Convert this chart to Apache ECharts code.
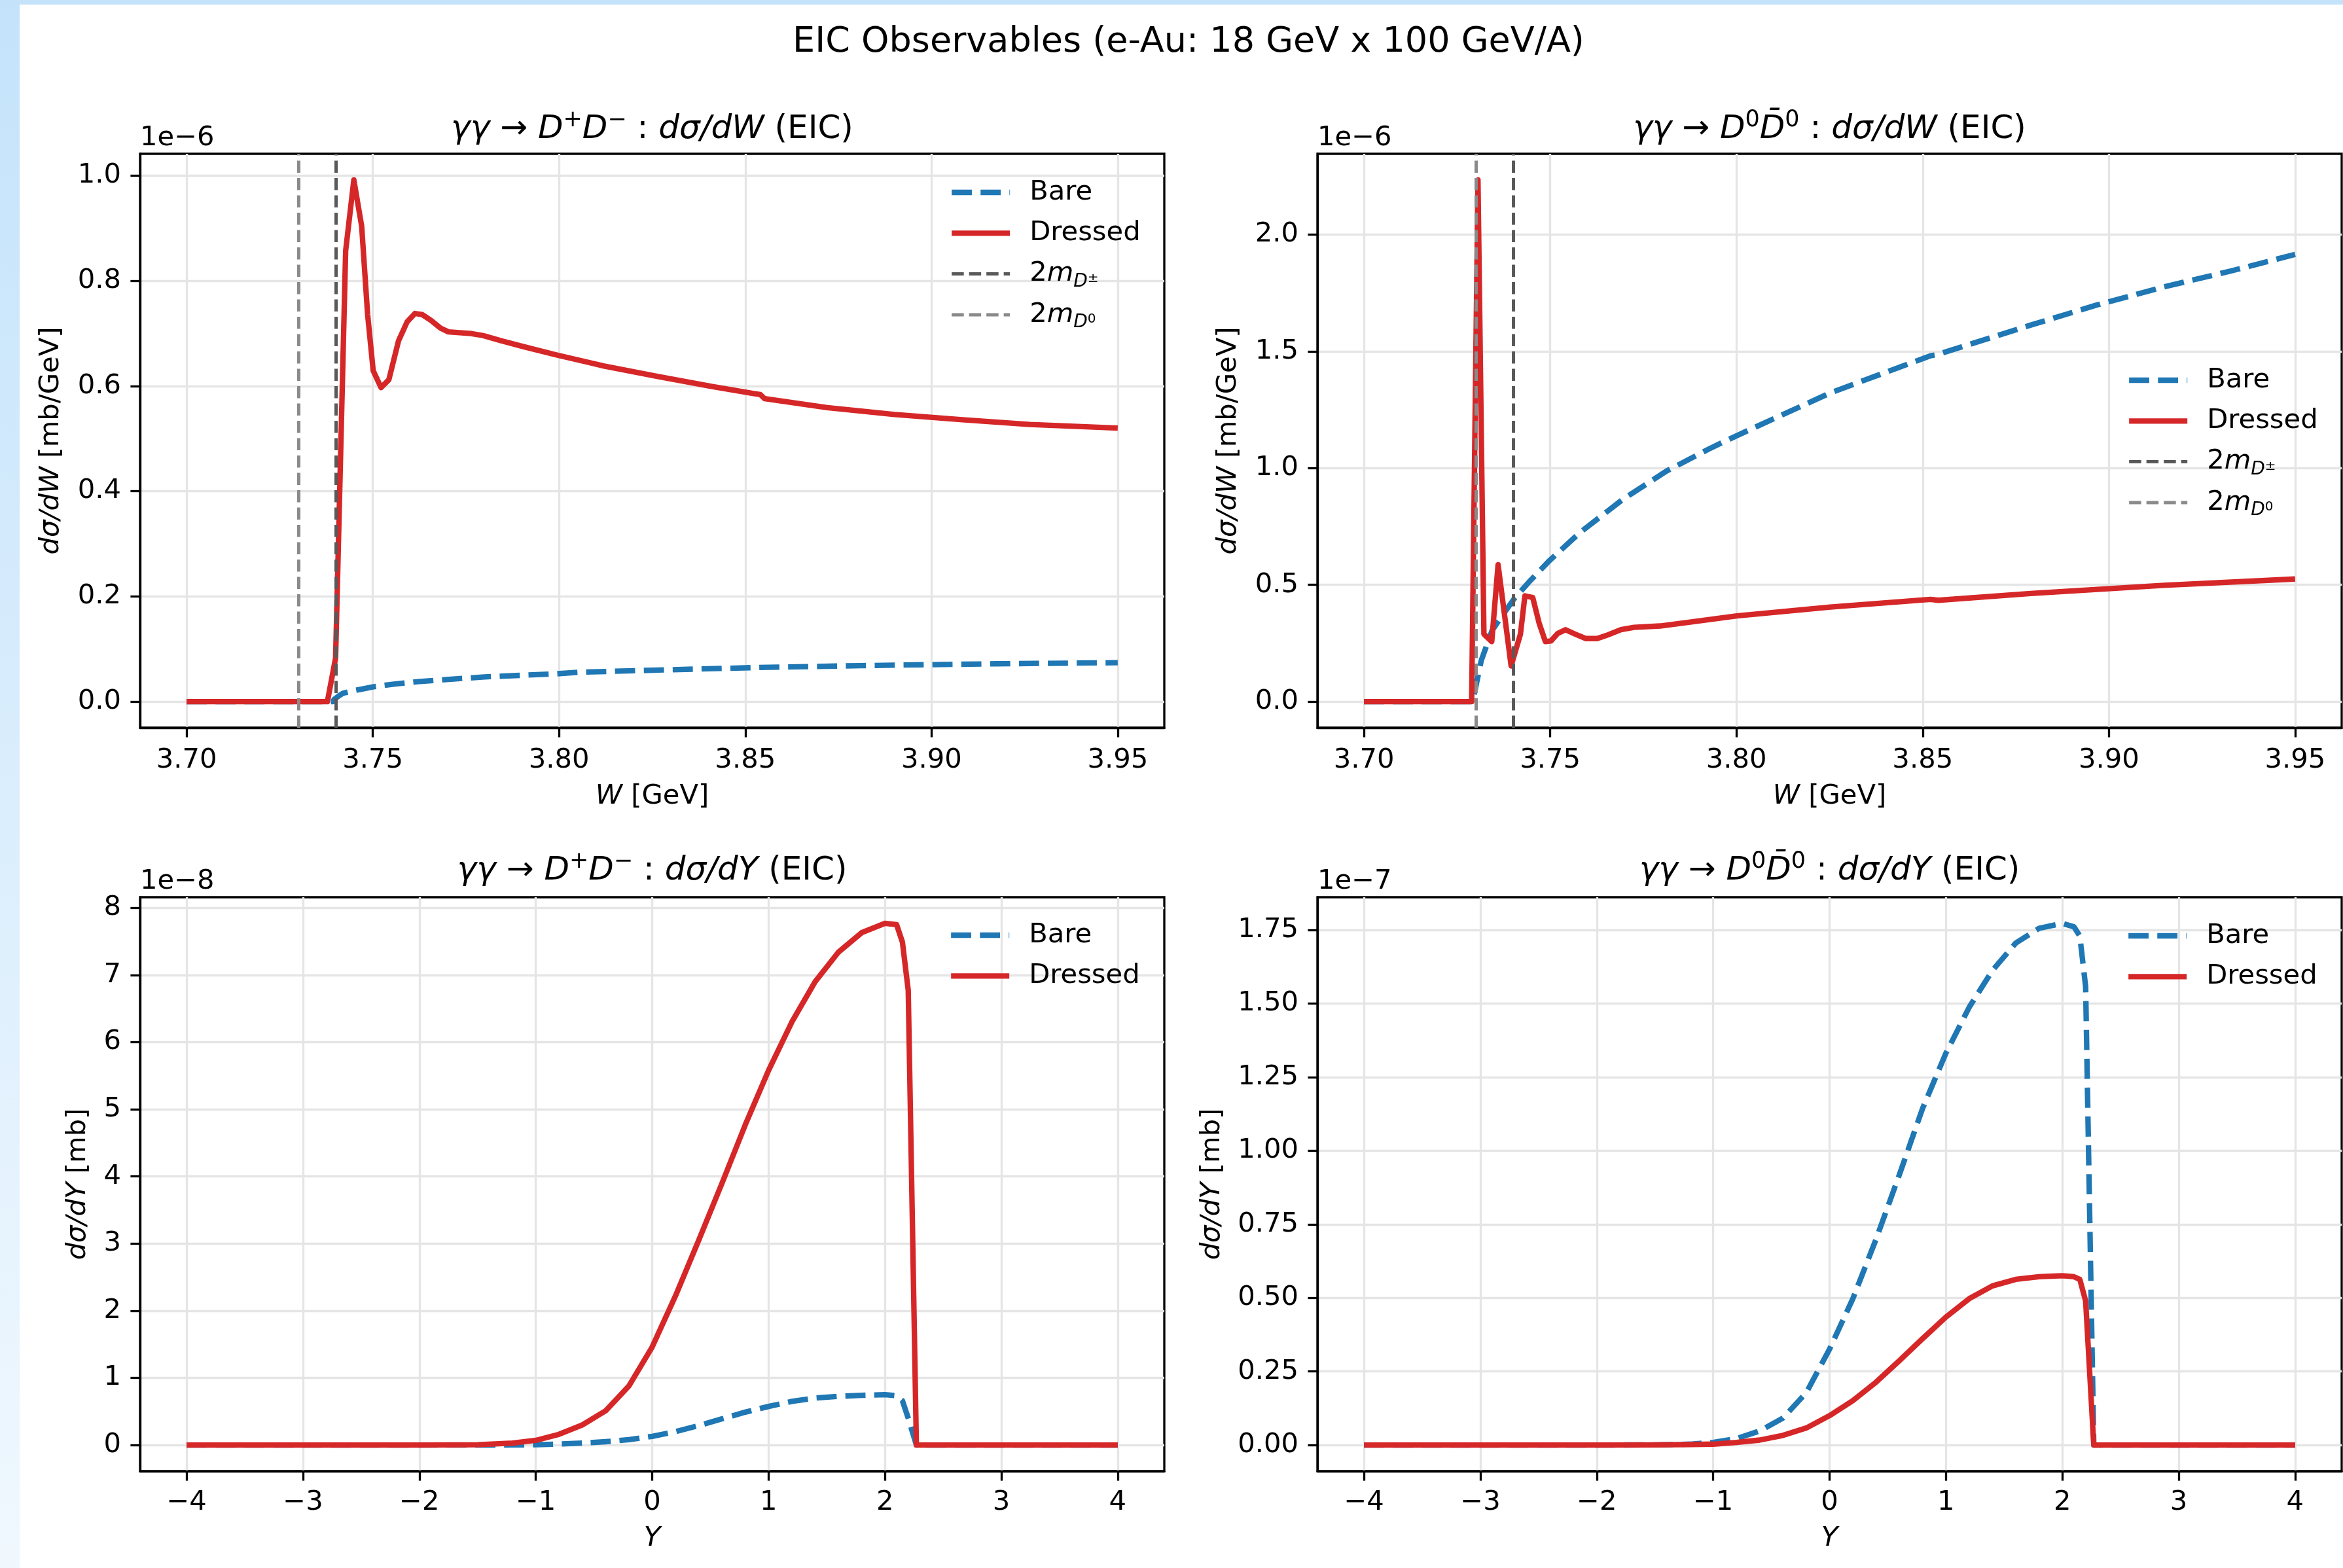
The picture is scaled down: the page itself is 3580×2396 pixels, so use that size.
<!DOCTYPE html>
<html>
<head>
<meta charset="utf-8">
<script src="https://cdn.jsdelivr.net/npm/echarts@6/dist/echarts.min.js"></script>
<style>
html,body{margin:0;padding:0;width:3580px;height:2396px;overflow:hidden;background:linear-gradient(#c4e3fb,#f0f8fe);}
#paper{position:absolute;left:30px;top:7px;width:3550px;height:2389px;background:#fff;}
#chart{position:absolute;left:0;top:0;width:3580px;height:2396px;}
</style>
</head>
<body>
<div id="paper"></div>
<div id="chart"></div>
<script>
// ---------------- DATA ----------------
// Threshold energies (GeV)
const TWO_M_DPM = 3.73932;
const TWO_M_D0 = 3.72968;

// Panel 1: gamma gamma -> D+ D-, dsigma/dW  (units of 1e-6 mb/GeV)
const W_DpDm_dressed = [3.700,3.710,3.720,3.730,3.7378,3.7400,3.7427,3.7449,3.7470,3.7486,3.7501,3.7522,3.7543,3.7569,3.7592,3.7613,3.7632,3.7656,3.7682,3.7703,3.7763,3.7796,3.7845,3.7904,3.7994,3.8079,3.8121,3.8266,3.8411,3.8520,3.8540,3.8552,3.8720,3.8901,3.9083,3.9264,3.9500];
const dsdW_DpDm_dressed = [0,0,0,0,0,0.083,0.857,0.992,0.904,0.736,0.629,0.597,0.612,0.686,0.722,0.738,0.736,0.725,0.710,0.703,0.700,0.696,0.686,0.675,0.659,0.645,0.638,0.618,0.599,0.586,0.584,0.576,0.559,0.546,0.536,0.527,0.520];
const W_DpDm_bare = [3.700,3.7393,3.7396,3.7409,3.7420,3.7450,3.7465,3.7500,3.7553,3.7620,3.7728,3.7800,3.7994,3.8058,3.8266,3.8538,3.8811,3.9173,3.9500];
const dsdW_DpDm_bare = [0,0,0.004,0.011,0.016,0.021,0.023,0.028,0.033,0.038,0.0435,0.047,0.053,0.056,0.060,0.065,0.0685,0.072,0.074];

// Panel 2: gamma gamma -> D0 D0bar, dsigma/dW  (units of 1e-6 mb/GeV)
const W_D0D0_dressed = [3.700,3.710,3.720,3.7289,3.7306,3.7322,3.7343,3.7360,3.7395,3.7420,3.7432,3.7453,3.7470,3.7487,3.7502,3.7520,3.7541,3.7567,3.7596,3.7626,3.7655,3.7690,3.7725,3.7795,3.7872,3.8001,3.8252,3.8521,3.8542,3.8790,3.9148,3.9500];
const dsdW_D0D0_dressed = [0,0,0,0,2.234,0.289,0.257,0.586,0.153,0.289,0.453,0.446,0.337,0.257,0.260,0.292,0.308,0.289,0.270,0.270,0.286,0.308,0.318,0.324,0.340,0.367,0.405,0.438,0.434,0.463,0.498,0.525];
const W_D0D0_bare = [3.700,3.7289,3.7295,3.7315,3.7344,3.7374,3.7403,3.7444,3.7497,3.7579,3.7696,3.7813,3.7930,3.8001,3.8252,3.8521,3.8539,3.8790,3.8969,3.9148,3.9328,3.9500];
const dsdW_D0D0_bare = [0,0,0.024,0.177,0.305,0.375,0.440,0.514,0.6025,0.723,0.8675,0.988,1.085,1.139,1.322,1.481,1.486,1.612,1.699,1.776,1.844,1.915];

// Rapidity grid for the dsigma/dY panels
const Y_grid = [-4,-3,-2,-1.5,-1.2,-1.0,-0.8,-0.6,-0.4,-0.2,0,0.2,0.4,0.6,0.8,1.0,1.2,1.4,1.6,1.8,2.0,2.1,2.15,2.2,2.27,2.4,3,4];
// Panel 3: D+ D-, dsigma/dY (units of 1e-8 mb)
const dsdY_DpDm_dressed = [0,0,0,0.005,0.03,0.07,0.16,0.30,0.51,0.88,1.46,2.22,3.05,3.90,4.77,5.58,6.30,6.90,7.34,7.63,7.77,7.75,7.49,6.77,0,0,0,0];
const dsdY_DpDm_bare = [0,0,0,0,0.002,0.005,0.015,0.03,0.05,0.08,0.13,0.20,0.29,0.39,0.49,0.575,0.65,0.70,0.725,0.74,0.75,0.735,0.66,0.40,0,0,0,0];
// Panel 4: D0 D0bar, dsigma/dY (units of 1e-7 mb)
const dsdY_D0D0_bare = [0,0,0,0.0005,0.003,0.009,0.022,0.048,0.092,0.178,0.326,0.4975,0.70,0.919,1.145,1.332,1.488,1.613,1.706,1.756,1.773,1.761,1.73,1.558,0,0,0,0];
const dsdY_D0D0_dressed = [0,0,0,0.0005,0.002,0.003,0.009,0.017,0.033,0.058,0.100,0.151,0.214,0.287,0.362,0.435,0.4975,0.541,0.563,0.572,0.5755,0.572,0.563,0.49,0,0,0,0];

// Tick values
const X_TICKS_W = [3.70,3.75,3.80,3.85,3.90,3.95];
const X_TICKS_Y = [-4,-3,-2,-1,0,1,2,3,4];
const Y_TICKS_1 = [0,0.2,0.4,0.6,0.8,1.0];
const Y_TICKS_2 = [0,0.5,1.0,1.5,2.0];
const Y_TICKS_3 = [0,1,2,3,4,5,6,7,8];
const Y_TICKS_4 = [0,0.25,0.5,0.75,1.0,1.25,1.5,1.75];
const OFFSET_TEXTS = ['1e\u22126','1e\u22126','1e\u22128','1e\u22127'];

// ---------------- STYLE / LAYOUT ----------------
const FONT = 'DejaVu Sans';
const BLUE = '#1f77b4', RED = '#d62728', GRIDC = '#e5e5e5', VL_DPM = '#595959', VL_D0 = '#8a8a8a';
const LW = 8.33, AXW = 3.3;

const pairs = (xs, ys) => xs.map((x, i) => [x, ys[i]]);
const padRange = (lo, hi) => { const r = hi - lo; return [lo - 0.05 * r, hi + 0.05 * r]; };
const RANGE_W = padRange(3.70, 3.95);
const RANGE_Y = padRange(-4, 4);
const yRanges = [
  padRange(0, Math.max(...dsdW_DpDm_dressed, ...dsdW_DpDm_bare)),
  padRange(0, Math.max(...dsdW_D0D0_dressed, ...dsdW_D0D0_bare)),
  padRange(0, Math.max(...dsdY_DpDm_dressed, ...dsdY_DpDm_bare)),
  padRange(0, Math.max(...dsdY_D0D0_dressed, ...dsdY_D0D0_bare))
];

const GRIDS = [
  {left: 214, top: 235}, {left: 2013, top: 235},
  {left: 214, top: 1371}, {left: 2013, top: 1371}
];
const GW = 1565, GH = 877;

const NAME_RICH = {
  i: {fontFamily: FONT, fontSize: 41.7, fontStyle: 'italic', fontWeight: 'normal', color: '#000', lineHeight: 42},
  r: {fontFamily: FONT, fontSize: 41.7, fontWeight: 'normal', color: '#000', lineHeight: 42}
};
const T_RICH = {
  i: {fontFamily: FONT, fontSize: 50, fontStyle: 'italic', fontWeight: 'normal', color: '#000', lineHeight: 70},
  r: {fontFamily: FONT, fontSize: 50, fontWeight: 'normal', color: '#000', lineHeight: 70},
  s: {fontFamily: FONT, fontSize: 35, fontWeight: 'normal', color: '#000', lineHeight: 42, verticalAlign: 'top', padding: [3.5, 0, 0, 0]}
};
const L_RICH = {
  n: {fontFamily: FONT, fontSize: 41.7, fontWeight: 'normal', color: '#000', lineHeight: 52},
  i: {fontFamily: FONT, fontSize: 41.7, fontStyle: 'italic', fontWeight: 'normal', color: '#000', lineHeight: 52},
  sub: {fontFamily: FONT, fontSize: 28, fontStyle: 'italic', fontWeight: 'normal', color: '#000', lineHeight: 28, verticalAlign: 'bottom'},
  ss: {fontFamily: FONT, fontSize: 20, fontWeight: 'normal', color: '#000', padding: [14, 0, 0, 0]}
};
const LEGEND_TEXT = {
  'Bare': '{n|Bare}',
  'Dressed': '{n|Dressed}',
  '2mD\u00b1': '{n|2}{i|m}{sub|D}{ss|\u00b1}',
  '2mD0': '{n|2}{i|m}{sub|D}{ss|0}'
};

const TITLES = [
  '{i|\u03b3\u03b3}{r| \u2192 }{i|D}{s|+}{i|D}{s|\u2212}{r| : }{i|d\u03c3/dW}{r| (EIC)}',
  '{i|\u03b3\u03b3}{r| \u2192 }{i|D}{s|0}{i|D\u0304}{s|0}{r| : }{i|d\u03c3/dW}{r| (EIC)}',
  '{i|\u03b3\u03b3}{r| \u2192 }{i|D}{s|+}{i|D}{s|\u2212}{r| : }{i|d\u03c3/dY}{r| (EIC)}',
  '{i|\u03b3\u03b3}{r| \u2192 }{i|D}{s|0}{i|D\u0304}{s|0}{r| : }{i|d\u03c3/dY}{r| (EIC)}'
];
const TITLE_TOPS = [163, 163, 1296, 1296];
const OFFSET_TOPS = [190, 190, 1326, 1326];

const minusFmt = v => (v < 0 ? '\u2212' + Math.abs(v) : String(v));
const xFmt = [v => v.toFixed(2), v => v.toFixed(2), minusFmt, minusFmt];
const yFmt = [v => v.toFixed(1), v => v.toFixed(1), v => v.toFixed(0), v => v.toFixed(2)];
const xTicks = [X_TICKS_W, X_TICKS_W, X_TICKS_Y, X_TICKS_Y];
const yTicks = [Y_TICKS_1, Y_TICKS_2, Y_TICKS_3, Y_TICKS_4];
const xNames = ['{i|W}{r| [GeV]}', '{i|W}{r| [GeV]}', '{i|Y}', '{i|Y}'];
const yNames = ['{i|d\u03c3/dW}{r| [mb/GeV]}', '{i|d\u03c3/dW}{r| [mb/GeV]}', '{i|d\u03c3/dY}{r| [mb]}', '{i|d\u03c3/dY}{r| [mb]}'];
const yNameGaps = [115, 115, 74, 140];
const xNameGaps = [84, 84, 82, 82];
const xLabelMargins = [29, 29, 27, 27];
const xRanges = [RANGE_W, RANGE_W, RANGE_Y, RANGE_Y];

const labelStyle = {color: '#000', fontSize: 41.7, fontFamily: FONT};

const grid = GRIDS.map(g => ({left: g.left, top: g.top, width: GW, height: GH, show: true,
  borderColor: '#000', borderWidth: AXW, backgroundColor: 'transparent', containLabel: false, outerBoundsMode: 'none'}));

const xAxis = [0, 1, 2, 3].map(k => ({
  type: 'value', gridIndex: k, min: xRanges[k][0], max: xRanges[k][1],
  axisLine: {show: true, onZero: false, lineStyle: {color: '#000', width: AXW}},
  axisTick: {show: true, inside: false, length: 14.6, customValues: xTicks[k], lineStyle: {color: '#000', width: AXW}},
  axisLabel: Object.assign({show: true, customValues: xTicks[k], formatter: xFmt[k], margin: xLabelMargins[k]}, labelStyle),
  splitLine: {show: true, lineStyle: {color: GRIDC, width: AXW}},
  name: xNames[k], nameLocation: 'middle', nameGap: xNameGaps[k], nameMoveOverlap: false,
  nameTextStyle: {fontSize: 41.7, lineHeight: 42, fontFamily: FONT, color: '#000', rich: NAME_RICH}
}));

const yAxis = [0, 1, 2, 3].map(k => ({
  type: 'value', gridIndex: k, min: yRanges[k][0], max: yRanges[k][1],
  axisLine: {show: true, onZero: false, lineStyle: {color: '#000', width: AXW}},
  axisTick: {show: true, inside: false, length: 14.6, customValues: yTicks[k], lineStyle: {color: '#000', width: AXW}},
  axisLabel: Object.assign({show: true, customValues: yTicks[k], formatter: yFmt[k], margin: 29}, labelStyle),
  splitLine: {show: true, lineStyle: {color: GRIDC, width: AXW}},
  name: yNames[k], nameLocation: 'middle', nameGap: yNameGaps[k], nameMoveOverlap: false,
  nameTextStyle: {fontSize: 41.7, lineHeight: 42, fontFamily: FONT, color: '#000', rich: NAME_RICH}
}));

function curve(name, k, data, color, dashed) {
  return {
    name, type: 'line', xAxisIndex: k, yAxisIndex: k, data,
    symbol: 'none', showSymbol: false, smooth: false, silent: true, animation: false, z: 2,
    itemStyle: {color},
    lineStyle: {color, width: LW, type: dashed ? [30.8, 13.3] : 'solid', cap: 'butt', join: 'round'}
  };
}
function vline(name, k, xval, color) {
  return {
    name, type: 'line', xAxisIndex: k, yAxisIndex: k, data: [],
    symbol: 'none', silent: true, animation: false, z: 4,
    itemStyle: {color},
    lineStyle: {color, width: 5, type: [18.5, 8], cap: 'butt'},
    markLine: {silent: true, animation: false, symbol: ['none', 'none'], label: {show: false},
      emphasis: {disabled: true},
      lineStyle: {color, width: 5, type: [18.5, 8], cap: 'butt'},
      data: [{xAxis: xval}]}
  };
}

const series = [
  curve('Bare', 0, pairs(W_DpDm_bare, dsdW_DpDm_bare), BLUE, true),
  curve('Dressed', 0, pairs(W_DpDm_dressed, dsdW_DpDm_dressed), RED, false),
  vline('2mD\u00b1', 0, TWO_M_DPM, VL_DPM),
  vline('2mD0', 0, TWO_M_D0, VL_D0),
  curve('Bare', 1, pairs(W_D0D0_bare, dsdW_D0D0_bare), BLUE, true),
  curve('Dressed', 1, pairs(W_D0D0_dressed, dsdW_D0D0_dressed), RED, false),
  vline('2mD\u00b1', 1, TWO_M_DPM, VL_DPM),
  vline('2mD0', 1, TWO_M_D0, VL_D0),
  curve('Bare', 2, pairs(Y_grid, dsdY_DpDm_bare), BLUE, true),
  curve('Dressed', 2, pairs(Y_grid, dsdY_DpDm_dressed), RED, false),
  curve('Bare', 3, pairs(Y_grid, dsdY_D0D0_bare), BLUE, true),
  curve('Dressed', 3, pairs(Y_grid, dsdY_D0D0_dressed), RED, false)
];

function legendOpt(names, left, top) {
  return {
    show: true, orient: 'vertical', left, top, data: names, padding: 0, itemGap: 10.3,
    itemWidth: 89, itemHeight: 20, selectedMode: false,
    itemStyle: {opacity: 0}, lineStyle: {width: 'inherit'},
    formatter: n => LEGEND_TEXT[n],
    textStyle: {color: '#000', fontFamily: FONT, fontSize: 41.7, lineHeight: 52, padding: [0, 0, 0, 25], rich: L_RICH}
  };
}
const ALL4 = ['Bare', 'Dressed', '2mD\u00b1', '2mD0'];
const legend = [
  legendOpt(ALL4, 1450, 268),
  legendOpt(ALL4, 3249, 555),
  legendOpt(['Bare', 'Dressed'], 1449, 1403),
  legendOpt(['Bare', 'Dressed'], 3248, 1404)
];

const title = [
  {text: 'EIC Observables (e-Au: 18 GeV x 100 GeV/A)', left: 1816, top: 38, textAlign: 'center', textVerticalAlign: 'top', padding: 0,
   textStyle: {fontFamily: FONT, fontSize: 54, lineHeight: 54, fontWeight: 'normal', color: '#000'}}
];
for (let k = 0; k < 4; k++) {
  title.push({text: TITLES[k], left: GRIDS[k].left + GW / 2, top: TITLE_TOPS[k], textAlign: 'center', textVerticalAlign: 'top', padding: 0,
    textStyle: {fontFamily: FONT, fontSize: 50, lineHeight: 70, fontWeight: 'normal', color: '#000', rich: T_RICH}});
  title.push({text: OFFSET_TEXTS[k], left: GRIDS[k].left, top: OFFSET_TOPS[k], textAlign: 'left', textVerticalAlign: 'top', padding: 0,
    textStyle: {fontFamily: FONT, fontSize: 41.7, lineHeight: 42, fontWeight: 'normal', color: '#000'}});
}

const chart = echarts.init(document.getElementById('chart'), null, {renderer: 'canvas', width: 3580, height: 2396});
chart.setOption({
  animation: false,
  backgroundColor: 'transparent',
  textStyle: {fontFamily: FONT},
  title, legend, grid, xAxis, yAxis, series
});
</script>
</body>
</html>
